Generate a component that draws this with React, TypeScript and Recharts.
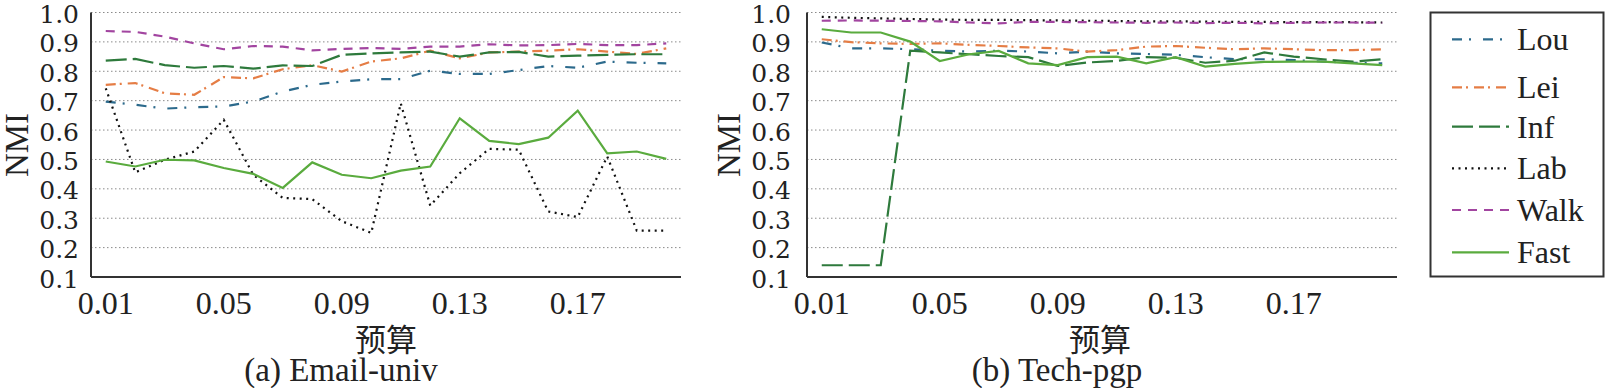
import React from 'react';
import { LineChart, Line, XAxis, YAxis, CartesianGrid } from 'recharts';

// ---------- data ----------
const budgets = ['0.01', '0.02', '0.03', '0.04', '0.05', '0.06', '0.07', '0.08', '0.09', '0.10',
  '0.11', '0.12', '0.13', '0.14', '0.15', '0.16', '0.17', '0.18', '0.19', '0.20'];
const xTickLabels = ['0.01', '0.05', '0.09', '0.13', '0.17'];
const yTicks = [0.1, 0.2, 0.3, 0.4, 0.5, 0.6, 0.7, 0.8, 0.9, 1.0];
const seriesNames = ['Lou', 'Lei', 'Inf', 'Lab', 'Walk', 'Fast'];

// (a) Email-univ
const emailLou = [0.697, 0.686, 0.673, 0.678, 0.680, 0.697, 0.731, 0.754, 0.765, 0.773, 0.773, 0.802, 0.791, 0.791, 0.804, 0.818, 0.812, 0.833, 0.829, 0.827];
const emailLei = [0.754, 0.760, 0.725, 0.720, 0.780, 0.776, 0.807, 0.821, 0.799, 0.833, 0.844, 0.870, 0.844, 0.864, 0.867, 0.870, 0.875, 0.867, 0.859, 0.878];
const emailInf = [0.836, 0.842, 0.821, 0.812, 0.818, 0.809, 0.820, 0.818, 0.856, 0.861, 0.864, 0.867, 0.850, 0.864, 0.866, 0.850, 0.853, 0.856, 0.858, 0.858];
const emailLab = [0.742, 0.456, 0.499, 0.527, 0.635, 0.448, 0.369, 0.365, 0.290, 0.250, 0.691, 0.343, 0.453, 0.536, 0.533, 0.323, 0.304, 0.510, 0.258, 0.258];
const emailWalk = [0.937, 0.934, 0.918, 0.895, 0.875, 0.886, 0.884, 0.871, 0.876, 0.879, 0.876, 0.884, 0.884, 0.892, 0.888, 0.889, 0.893, 0.889, 0.889, 0.895];
const emailFast = [0.493, 0.476, 0.499, 0.497, 0.471, 0.451, 0.403, 0.490, 0.448, 0.436, 0.462, 0.476, 0.640, 0.563, 0.552, 0.574, 0.666, 0.521, 0.527, 0.502];

// (b) Tech-pgp
const techLou = [0.898, 0.878, 0.878, 0.875, 0.870, 0.867, 0.870, 0.867, 0.861, 0.867, 0.861, 0.859, 0.856, 0.848, 0.841, 0.841, 0.838, 0.833, 0.829, 0.827];
const techLei = [0.909, 0.899, 0.895, 0.893, 0.895, 0.890, 0.886, 0.881, 0.878, 0.867, 0.872, 0.884, 0.886, 0.880, 0.875, 0.878, 0.875, 0.872, 0.872, 0.875];
const techInf = [0.140, 0.140, 0.140, 0.870, 0.864, 0.858, 0.852, 0.848, 0.818, 0.830, 0.835, 0.848, 0.846, 0.829, 0.836, 0.864, 0.850, 0.841, 0.833, 0.841];
const techLab = [0.985, 0.982, 0.980, 0.978, 0.976, 0.975, 0.975, 0.974, 0.973, 0.972, 0.971, 0.970, 0.970, 0.969, 0.968, 0.968, 0.967, 0.967, 0.967, 0.966];
const techWalk = [0.972, 0.973, 0.972, 0.971, 0.970, 0.966, 0.963, 0.968, 0.968, 0.967, 0.966, 0.965, 0.966, 0.964, 0.965, 0.963, 0.965, 0.966, 0.966, 0.965];
const techFast = [0.943, 0.932, 0.932, 0.901, 0.835, 0.858, 0.869, 0.827, 0.821, 0.848, 0.850, 0.827, 0.848, 0.816, 0.825, 0.832, 0.833, 0.833, 0.827, 0.821];

const buildRows = (cols: number[][]) =>
  budgets.map((b, i) => {
    const row: Record<string, any> = { x: b };
    seriesNames.forEach((n, k) => { row[n] = cols[k][i]; });
    return row;
  });

const emailData = buildRows([emailLou, emailLei, emailInf, emailLab, emailWalk, emailFast]);
const techData = buildRows([techLou, techLei, techInf, techLab, techWalk, techFast]);

// ---------- styles ----------
const seriesStyle: Record<string, { color: string; dash?: string }> = {
  Lou: { color: '#2c6a8c', dash: '10 7 2 12' },
  Lei: { color: '#e57d45', dash: '10 4 2 6' },
  Inf: { color: '#2e7a3c', dash: '21 6' },
  Lab: { color: '#111111', dash: '2 4.5' },
  Walk: { color: '#a245a0', dash: '9 7' },
  Fast: { color: '#5aab3e' },
};

const SERIF = 'Liberation Serif';
const YFONT = 'DejaVu Serif';
const CJK = 'Noto Sans CJK SC';
const BORDER = { stroke: '#333', strokeWidth: 2 };

const YTick = (props: any) => {
  const { x, y, payload } = props;
  return (
    <text x={x} y={y + 2} textAnchor="end" dominantBaseline="central" fontSize={25} fill="#222" style={{ fontFamily: YFONT }}>
      {Number(payload.value).toFixed(1)}
    </text>
  );
};

function Panel({ data, width, yWidth, tickGap }: { data: any[]; width: number; yWidth: number; tickGap: number }) {
  return (
    <LineChart width={width} height={388} data={data} margin={{ top: 12.5, right: 5, bottom: 0, left: 0 }}>
      <CartesianGrid vertical={false} stroke="#8a8a8a" strokeDasharray="1.5 2.5" strokeWidth={1} />
      <XAxis
        dataKey="x"
        ticks={xTickLabels}
        interval={0}
        tickLine={false}
        tickSize={0}
        tickMargin={14}
        height={111}
        padding={{ left: 14.75, right: 14.75 }}
        axisLine={BORDER}
        tick={{ fontSize: 32, fill: '#222', style: { fontFamily: SERIF } }}
      />
      <XAxis xAxisId="top" dataKey="x" orientation="top" height={0} tick={false} tickLine={false} axisLine={BORDER} />
      <YAxis
        domain={[0.1, 1]}
        ticks={yTicks}
        interval={0}
        width={yWidth}
        tickLine={false}
        tickSize={0}
        tickMargin={tickGap}
        axisLine={BORDER}
        tick={<YTick />}
      />
      <YAxis yAxisId="right" orientation="right" width={0} domain={[0.1, 1]} tick={false} tickLine={false} axisLine={BORDER} />
      {seriesNames.map((n) => (
        <Line
          key={n}
          type="linear"
          dataKey={n}
          stroke={seriesStyle[n].color}
          strokeWidth={2.2}
          strokeDasharray={seriesStyle[n].dash}
          dot={false}
          activeDot={false}
          isAnimationActive={false}
        />
      ))}
    </LineChart>
  );
}

const legendYs = [39.3, 87.3, 126.7, 168.3, 210, 252.3];

export default function App() {
  return (
    <div style={{ position: 'absolute', left: 0, top: 0, width: 1609, height: 388, background: '#fff', overflow: 'hidden', fontFamily: SERIF }}>
      <svg width={1609} height={388} style={{ position: 'absolute', left: 0, top: 0 }}>
        <text transform="translate(17,145) rotate(-90)" textAnchor="middle" dominantBaseline="central" style={{ fontFamily: SERIF }} fontSize={33} fill="#222">NMI</text>
        <text transform="translate(729,145) rotate(-90)" textAnchor="middle" dominantBaseline="central" style={{ fontFamily: SERIF }} fontSize={33} fill="#222">NMI</text>
        <text x={386} y={351} textAnchor="middle" style={{ fontFamily: CJK }} fontSize={31} fill="#222">预算</text>
        <text x={1100} y={351} textAnchor="middle" style={{ fontFamily: CJK }} fontSize={31} fill="#222">预算</text>
        <text x={341} y={381} textAnchor="middle" style={{ fontFamily: SERIF }} fontSize={33} fill="#222">(a) Email-univ</text>
        <text x={1057} y={381} textAnchor="middle" style={{ fontFamily: SERIF }} fontSize={33} fill="#222">(b) Tech-pgp</text>
        <rect x={1430.5} y={12.5} width={173} height={264} fill="none" stroke="#333" strokeWidth={2} />
        {seriesNames.map((n, i) => (
          <g key={n}>
            <line x1={1452} x2={1509} y1={legendYs[i]} y2={legendYs[i]} stroke={seriesStyle[n].color} strokeWidth={2.2} strokeDasharray={seriesStyle[n].dash} />
            <text x={1517} y={legendYs[i] + 11} style={{ fontFamily: SERIF }} fontSize={32} fill="#222">{n}</text>
          </g>
        ))}
      </svg>
      <div style={{ position: 'absolute', left: 0, top: 0 }}>
        <Panel data={emailData} width={686} yWidth={91} tickGap={12} />
      </div>
      <div style={{ position: 'absolute', left: 700, top: 0 }}>
        <Panel data={techData} width={702} yWidth={107} tickGap={16} />
      </div>
    </div>
  );
}
